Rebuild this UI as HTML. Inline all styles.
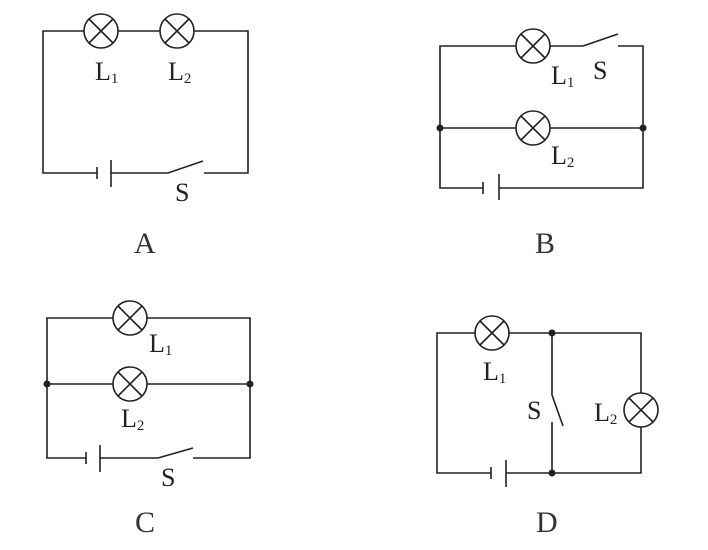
<!DOCTYPE html>
<html><head><meta charset="utf-8"><style>html,body{margin:0;padding:0;background:#fff}svg{display:block}</style></head><body>
<svg width="708" height="550" viewBox="0 0 708 550" xmlns="http://www.w3.org/2000/svg" font-family="Liberation Serif, serif" fill="#222">
<defs>
<g id="lamp"><circle r="17" fill="#fff" stroke="#222" stroke-width="1.6"/><path d="M-12,-12L12,12M12,-12L-12,12" stroke="#222" stroke-width="1.6"/></g>
</defs>
<g stroke="#222" stroke-width="1.6" fill="none">
<path d="M84,31H43V173H97M111,173H168L203,161M204,173H248V31H194M118,31H160"/>
<path d="M97,167V179M111,160V187"/>
<path d="M516,46H440V188H483M499,188H643V46H618M583,46L618,34M550,46H583M440,128H516M550,128H643"/>
<path d="M483,182V194M499,174V200"/>
<path d="M113,318H47V458H86M100,458H158L193,448M193,458H250V318H147M47,384H113M147,384H250"/>
<path d="M86,452V464M100,445V472"/>
<path d="M475,333H437V473H491M506,473H641V427M641,393V333H509M552,333V395L563,426M552,422V473"/>
<path d="M491,467V479M506,460V487"/>
</g>
<g fill="#222">
<circle cx="440" cy="128" r="3.5"/><circle cx="643" cy="128" r="3.5"/>
<circle cx="47" cy="384" r="3.5"/><circle cx="250" cy="384" r="3.5"/>
<circle cx="552" cy="333" r="3.5"/><circle cx="552" cy="473" r="3.5"/>
</g>
<use href="#lamp" x="101" y="31"/><use href="#lamp" x="177" y="31"/>
<use href="#lamp" x="533" y="46"/><use href="#lamp" x="533" y="128"/>
<use href="#lamp" x="130" y="318"/><use href="#lamp" x="130" y="384"/>
<use href="#lamp" x="492" y="333"/><use href="#lamp" x="641" y="410"/>
<g font-size="26">
<text x="95" y="80">L<tspan font-size="15" dy="3">1</tspan></text>
<text x="168" y="80">L<tspan font-size="15" dy="3">2</tspan></text>
<text x="175" y="201">S</text>
<text x="551" y="84">L<tspan font-size="15" dy="3">1</tspan></text>
<text x="593" y="79">S</text>
<text x="551" y="164">L<tspan font-size="15" dy="3">2</tspan></text>
<text x="149" y="352">L<tspan font-size="15" dy="3">1</tspan></text>
<text x="121" y="427">L<tspan font-size="15" dy="3">2</tspan></text>
<text x="161" y="486">S</text>
<text x="483" y="380">L<tspan font-size="15" dy="3">1</tspan></text>
<text x="527" y="419">S</text>
<text x="594" y="421">L<tspan font-size="15" dy="3">2</tspan></text>
</g>
<g font-size="30" fill="#333">
<text x="134" y="253">A</text>
<text x="535" y="253">B</text>
<text x="135" y="532">C</text>
<text x="536" y="532">D</text>
</g>
</svg>
</body></html>
